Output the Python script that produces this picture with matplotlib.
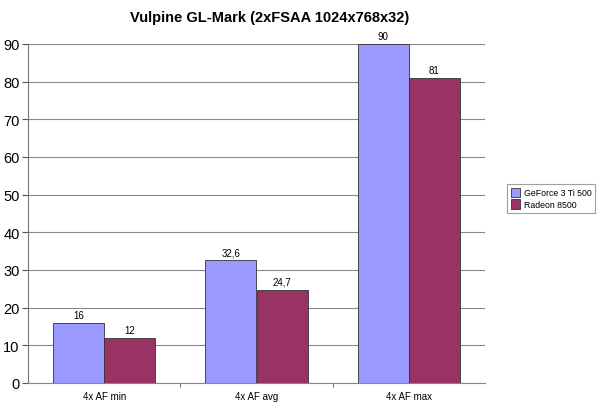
import matplotlib
matplotlib.use("Agg")
import matplotlib.pyplot as plt
import numpy as np

plt.rcParams['font.family'] = ['Liberation Sans', 'DejaVu Sans']

categories = ["4x AF min", "4x AF avg", "4x AF max"]
series_names = ["GeForce 3 Ti 500", "Radeon 8500"]
geforce = [16, 32.6, 90]
radeon = [12, 24.7, 81]
labels_geforce = ["16", "32,6", "90"]
labels_radeon = ["12", "24,7", "81"]
colors = ["#9999FF", "#993366"]

fig = plt.figure(figsize=(6, 4.06), dpi=100)
ax = fig.add_axes([28/600, 1-384/406, (485-28)/600, (384-45)/406])

x = np.arange(len(categories))
w = 0.335
b1 = ax.bar(x - w/2, geforce, w, color=colors[0], edgecolor="#333333", linewidth=0.6, label=series_names[0], zorder=3)
b2 = ax.bar(x + w/2, radeon, w, color=colors[1], edgecolor="#333333", linewidth=0.6, label=series_names[1], zorder=3)

for rect, lab in zip(b1, labels_geforce):
    ax.text(rect.get_x() + rect.get_width()/2, rect.get_height() + 0.8, lab, ha="center", va="bottom", fontsize=7)
for rect, lab in zip(b2, labels_radeon):
    ax.text(rect.get_x() + rect.get_width()/2, rect.get_height() + 0.8, lab, ha="center", va="bottom", fontsize=7)

ax.set_xlim(-0.5, 2.5)
ax.set_ylim(0, 90)
ax.set_yticks(np.arange(0, 91, 10))
ax.yaxis.grid(True, color="#888888", linewidth=0.8, zorder=0)
ax.set_axisbelow(True)

ax.set_xticks(x)
ax.set_xticklabels(categories, fontsize=7)
ax.tick_params(axis="x", length=0, pad=6)
ax.set_xticks([0.5, 1.5], minor=True)
ax.tick_params(axis="x", which="minor", length=3, direction="out", color="#555555")
ax.tick_params(axis="y", labelsize=10.5, length=4, color="#555555", pad=2)

for s in ["top", "right"]:
    ax.spines[s].set_visible(False)
ax.spines["left"].set_color("#777777")
ax.spines["bottom"].set_color("#888888")

fig.text(270/600, 1 - 18/406, "Vulpine GL-Mark (2xFSAA 1024x768x32)", ha="center", va="center", fontsize=10.5, fontweight="bold")

leg = fig.legend(handles=[b1, b2], labels=series_names, loc="upper left", bbox_to_anchor=(507/600, 1-185/406),
                 fontsize=6.3, frameon=True, fancybox=False, edgecolor="#888888", handlelength=1.1, handleheight=1.3,
                 handletextpad=0.4, borderpad=0.4, labelspacing=0.25, borderaxespad=0)
leg.get_frame().set_linewidth(0.8)

fig.savefig("out.png", dpi=100)
